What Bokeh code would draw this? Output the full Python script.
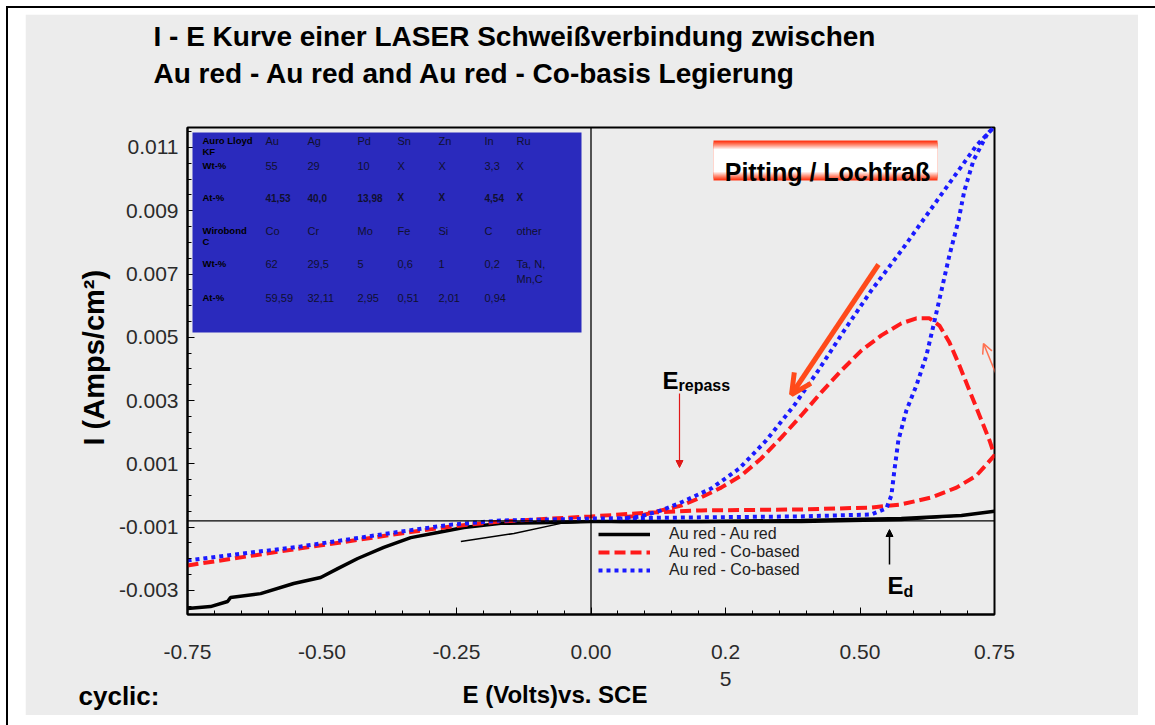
from bokeh.plotting import figure
from bokeh.models import (Span, Label, Arrow, OpenHead, NormalHead, BoxAnnotation,
                          FixedTicker, Legend, LegendItem, Title)
from bokeh.embed import file_html
from bokeh.resources import INLINE

FONT = "Liberation Sans"
GRAY = "#ececec"

# ---------------- data ----------------
x_ticks = [-0.75, -0.5, -0.25, 0.0, 0.25, 0.5, 0.75]
x_tick_labels = ["-0.75", "-0.50", "-0.25", "0.00", "0.2\n5", "0.50", "0.75"]
y_ticks = [0.011, 0.009, 0.007, 0.005, 0.003, 0.001, -0.001, -0.003]
y_tick_labels = ["0.011", "0.009", "0.007", "0.005", "0.003", "0.001", "-0.001", "-0.003"]

# Au red - Au red (forward scan, thick) and its return (thin)
e_au_fwd = [-0.75, -0.7072, -0.6755, -0.6700, -0.6141, -0.5527, -0.5025, -0.4708, -0.4336,
            -0.3852, -0.3350, -0.2847, -0.2363, -0.1675, -0.0744, 0.0, 0.2047, 0.3908,
            0.5769, 0.6886, 0.75]
i_au_fwd = [-0.00357, -0.00351, -0.00335, -0.00322, -0.00310, -0.00278, -0.00259, -0.00231,
            -0.00199, -0.00164, -0.00133, -0.00117, -0.00101, -0.00088, -0.00085, -0.00082,
            -0.00082, -0.00079, -0.00073, -0.00063, -0.00050]
e_au_rev = [0.75, 0.6700, 0.5769, 0.3908, 0.2047, 0.0558, 0.0, -0.0558, -0.1433, -0.2419]
i_au_rev = [-0.00050, -0.00066, -0.00079, -0.00085, -0.00085, -0.00085, -0.00083, -0.00088,
            -0.00120, -0.00145]

# Au red - Co-based (red dashed)
e_co1 = [-0.75, -0.5397, -0.3536, -0.2605, -0.1675, 0.0, 0.1117, 0.2047, 0.3908, 0.5211,
         0.5769, 0.6328, 0.6793, 0.7165, 0.75, 0.7407, 0.7221, 0.7034, 0.6848, 0.6662,
         0.6476, 0.6290, 0.6049, 0.5769, 0.5397, 0.5025, 0.4653, 0.4280, 0.3908, 0.3536,
         0.3164, 0.2792, 0.2419, 0.2047, 0.1675, 0.1303, 0.0931, 0.0558]
i_co1 = [-0.00221, -0.00167, -0.00120, -0.00098, -0.00082, -0.00066, -0.00054, -0.00047,
         -0.00044, -0.00038, -0.00028, -0.00006, 0.00025, 0.00063, 0.00127, 0.00174, 0.00253,
         0.00332, 0.00411, 0.00484, 0.00537, 0.00560, 0.00560, 0.00544, 0.00506, 0.00458,
         0.00395, 0.00326, 0.00253, 0.00183, 0.00117, 0.00063, 0.00025, -0.00006, -0.00032,
         -0.00047, -0.00063, -0.00069]

# Au red - Co-based (blue dotted)
e_co2 = [-0.75, -0.5397, -0.3536, -0.2605, -0.1675, 0.0, 0.2047, 0.3908, 0.5211, 0.5490,
         0.5583, 0.5639, 0.5713, 0.5862, 0.6049, 0.6235, 0.6365, 0.6514, 0.6662, 0.6830,
         0.6941, 0.7109, 0.7351, 0.7481, 0.7165, 0.6700, 0.6235, 0.5769, 0.5211, 0.4708,
         0.4224, 0.3777, 0.3257, 0.2754, 0.2233, 0.1675, 0.1303, 0.0931, 0.0558]
i_co2 = [-0.00205, -0.00161, -0.00114, -0.00092, -0.00079, -0.00073, -0.00069, -0.00066,
         -0.00060, -0.00041, 0.00000, 0.00079, 0.00174, 0.00269, 0.00348, 0.00443, 0.00537,
         0.00648, 0.00759, 0.00869, 0.00964, 0.01059, 0.01138, 0.01163, 0.01106, 0.00996,
         0.00885, 0.00774, 0.00648, 0.00522, 0.00395, 0.00285, 0.00174, 0.00085, 0.00022,
         -0.00022, -0.00047, -0.00066, -0.00073]

series_names = ["Au red - Au red", "Au red - Co-based", "Au red - Co-based"]

# reference lines
zero_e = 0.0
base_i = -0.0008

# alloy table
tab_hdr1 = ["Au", "Ag", "Pd", "Sn", "Zn", "In", "Ru"]
tab_wt1 = ["55", "29", "10", "X", "X", "3,3", "X"]
tab_at1 = ["41,53", "40,0", "13,98", "X", "X", "4,54", "X"]
tab_hdr2 = ["Co", "Cr", "Mo", "Fe", "Si", "C", "other"]
tab_wt2 = ["62", "29,5", "5", "0,6", "1", "0,2", "Ta, N,\nMn,C"]
tab_at2 = ["59,59", "32,11", "2,95", "0,51", "2,01", "0,94", ""]
tab_rowlabels = ["Auro Lloyd\nKF", "Wt-%", "At-%", "Wirobond\nC", "Wt-%", "At-%"]

title_lines = ["I - E Kurve einer LASER Schweißverbindung zwischen",
               "Au red - Au red  and Au red - Co-basis Legierung"]
x_label = "E (Volts)vs. SCE"
y_label = "I (Amps/cm²)"
mode_label = "cyclic:"

# ---------------- geometry ----------------
XMIN, XMAX = -0.75, 0.75
YMIN, YMAX = -0.00376, 0.01163
FL, FR, FT, FB = 187, 994, 127, 614   # frame edges on the page (px)
PAGE_L, PAGE_T = 25, 14               # figure origin on the page (px)
W, H = 1113, 701


def dx(px):
    return XMIN + (px - FL) * (XMAX - XMIN) / (FR - FL)


def dy(py):
    return YMAX - (py - FT) * (YMAX - YMIN) / (FB - FT)


p = figure(width=W, height=H, x_range=(XMIN, XMAX), y_range=(YMIN, YMAX),
           output_backend="svg", toolbar_location=None,
           min_border_left=FL - PAGE_L, min_border_right=PAGE_L + W - FR,
           min_border_top=FT - PAGE_T, min_border_bottom=PAGE_T + H - FB,
           background_fill_color=GRAY, border_fill_color=GRAY,
           outline_line_color="black", outline_line_width=2)
p.margin = (PAGE_T, 0, 0, PAGE_L)
# white page with a thin black border line at the top and left
p.styles = {"box-shadow": "3px 14px 0 20px #ffffff, 1px 12px 0 20px #000000"}
p.grid.visible = False


def ttl(text, size, where, **kw):
    p.add_layout(Title(text=text, text_font=FONT, text_font_size=f"{size}px",
                       text_font_style="bold", text_color="black", **kw), where)


# titles above the frame (a thin spacer first, then line 2, then line 1)
ttl(" ", 1, "above", standoff=36)
ttl(title_lines[1], 28, "above", align="left", offset=153 - FL, standoff=0)
ttl(title_lines[0], 28, "above", align="left", offset=153 - FL, standoff=8)

# axes
p.xaxis.ticker = FixedTicker(ticks=x_ticks,
                             minor_ticks=[round(-0.75 + 0.05 * k, 2) for k in range(31)])
p.xaxis.major_label_overrides = dict(zip(x_ticks, x_tick_labels))
p.yaxis.ticker = FixedTicker(ticks=y_ticks,
                             minor_ticks=[round(-0.0035 + 0.0005 * k, 4) for k in range(31)])
p.yaxis.major_label_overrides = dict(zip(y_ticks, y_tick_labels))
for ax in (p.xaxis, p.yaxis):
    ax.axis_line_width = 2
    ax.axis_line_color = "black"
    ax.major_tick_in = 7
    ax.major_tick_out = 0
    ax.minor_tick_in = 4
    ax.minor_tick_out = 0
    ax.major_tick_line_color = "black"
    ax.minor_tick_line_color = "black"
    ax.major_label_text_font = FONT
    ax.major_label_text_font_size = "21px"
    ax.major_label_text_color = "#2a2a2a"
p.xaxis.major_label_standoff = 25
p.yaxis.major_label_standoff = 9

# axis texts (titles placed in the side panels)
ttl(y_label, 29, "left", align="left", offset=FB - 445, vertical_align="bottom", standoff=12)
ttl(x_label, 24, "below", align="left", offset=462 - FL, vertical_align="top", standoff=-26)
ttl(mode_label, 26, "below", align="left", offset=78 - FL, vertical_align="top", standoff=-31)

# reference lines
p.add_layout(Span(location=zero_e, dimension="height", line_color="black", line_width=1.3))
p.add_layout(Span(location=base_i, dimension="width", line_color="black", line_width=1.3))

# alloy table (blue box)
p.add_layout(BoxAnnotation(left=dx(192), right=dx(581), top=dy(132), bottom=dy(332),
                           fill_color="#2a2abd", fill_alpha=1.0, line_alpha=0))


def lab(px, py, text, size, bold=False, align="left", baseline="middle", color="black"):
    p.add_layout(Label(x=dx(px), y=dy(py), text=text, text_font=FONT,
                       text_font_size=f"{size}px",
                       text_font_style="bold" if bold else "normal",
                       text_align=align, text_baseline=baseline, text_color=color))


col_px = [265, 307, 357, 397, 438, 484, 516]
row_py = [140, 165, 197, 230, 263, 297]
for txt, py in zip(tab_rowlabels, row_py):
    for k, line in enumerate(txt.split("\n")):
        lab(202, py + 11 * k, line, 9.5, bold=True)
rows = [(tab_hdr1, False), (tab_wt1, False), (tab_at1, True),
        (tab_hdr2, False), (tab_wt2, False), (tab_at2, False)]
for (vals, bold), py in zip(rows, row_py):
    for v, px in zip(vals, col_px):
        for k, line in enumerate(v.split("\n")):
            lab(px, py + 15 * k, line, 10 if bold else 11, bold=bold, color="#101030")

# curves
r_au = p.line(e_au_fwd, i_au_fwd, line_color="black", line_width=3.5)
p.line(e_au_rev, i_au_rev, line_color="black", line_width=1.5)
r_co1 = p.line(e_co1, i_co1, line_color="#ff1a1a", line_width=4, line_dash="11 5")
r_co2 = p.line(e_co2, i_co2, line_color="#1a1aff", line_width=4, line_dash="4 4")

legend = Legend(items=[LegendItem(label=series_names[0], renderers=[r_au]),
                       LegendItem(label=series_names[1], renderers=[r_co1]),
                       LegendItem(label=series_names[2], renderers=[r_co2])],
                location=(409, 33), padding=2, margin=0, spacing=0,
                label_height=16, glyph_height=16, glyph_width=52, label_standoff=19,
                label_text_font=FONT, label_text_font_size="16px",
                label_text_color="#222222",
                background_fill_alpha=0, border_line_alpha=0)
p.add_layout(legend)

# "Pitting / Lochfrass" banner with red fading edges
band_cols = ["#ff3a1a", "#ff6a4c", "#ff9a86", "#ffcdc3", "#ffffff"]
for k, c in enumerate(band_cols):
    p.add_layout(BoxAnnotation(left=dx(713), right=dx(937), top=dy(140 + 2 * k),
                               bottom=dy(180 - 2 * k), fill_color=c, fill_alpha=1.0,
                               line_alpha=0))
lab(827, 171, "Pitting / Lochfraß", 25, bold=True, align="center", baseline="alphabetic")

# arrows
ORANGE = "#ff4a1a"
p.add_layout(Arrow(end=OpenHead(size=20, line_color=ORANGE, line_width=5),
                   x_start=dx(878), y_start=dy(264), x_end=dx(791), y_end=dy(394),
                   line_color=ORANGE, line_width=5))
p.add_layout(Arrow(end=OpenHead(size=10, line_color="#ff7050", line_width=1.5),
                   x_start=dx(1018), y_start=dy(428), x_end=dx(983), y_end=dy(343),
                   line_color="#ff7050", line_width=1.5))
p.add_layout(Arrow(end=NormalHead(size=7, fill_color="#e01818", line_color="#e01818"),
                   x_start=dx(679), y_start=dy(393), x_end=dx(679), y_end=dy(467),
                   line_color="#e01818", line_width=1.2))
p.add_layout(Arrow(end=NormalHead(size=7, fill_color="black", line_color="black"),
                   x_start=dx(889), y_start=dy(564), x_end=dx(889), y_end=dy(529),
                   line_color="black", line_width=1.5))

# E_repass and E_d
lab(662, 380, "E", 24, bold=True, baseline="alphabetic")
lab(678, 385, "repass", 16, bold=True, baseline="alphabetic")
lab(887, 585, "E", 24, bold=True, baseline="alphabetic")
lab(903, 591, "d", 16, bold=True, baseline="alphabetic")

open("out.html", "w").write(file_html(p, INLINE))
